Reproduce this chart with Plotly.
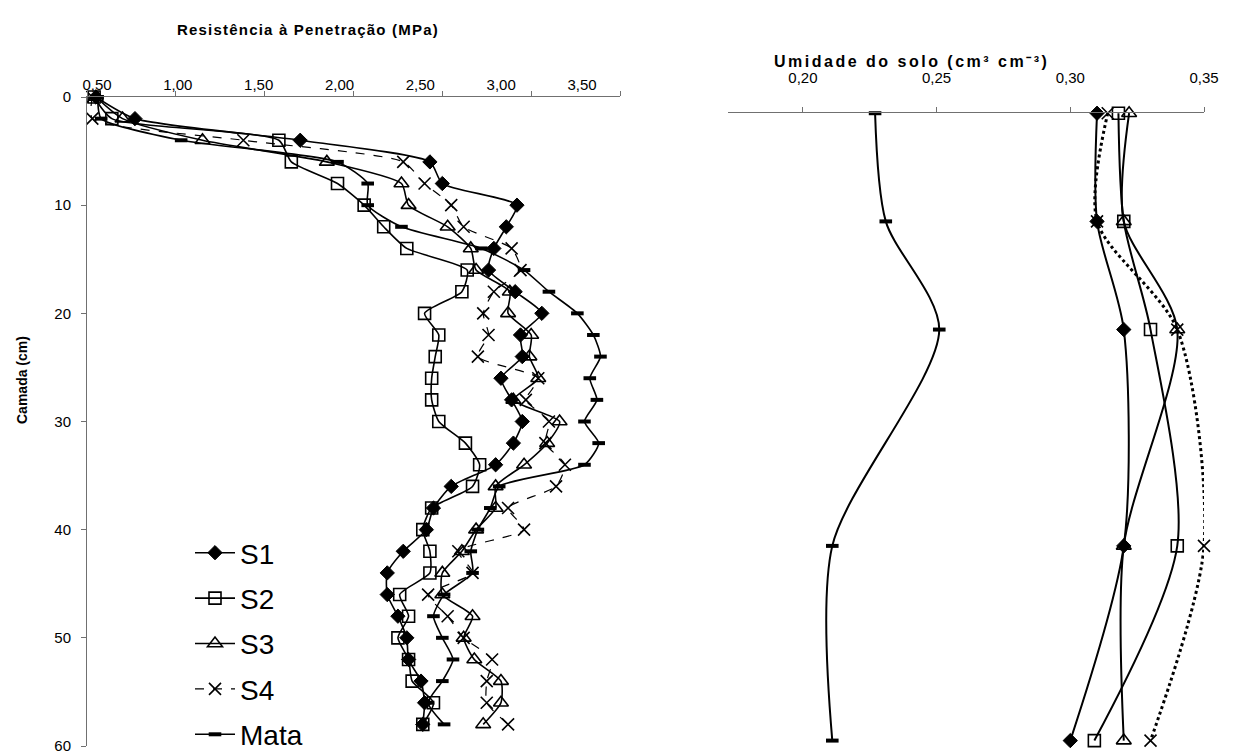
import plotly.graph_objects as go

W, H = 1239, 756
OFF = 8  # page body margin of the rendered html

# ---------------- Data: penetration resistance (MPa) by depth (cm) ----------------
depth = [0, 2, 4, 6, 8, 10, 12, 14, 16, 18, 20, 22, 24, 26, 28,
         30, 32, 34, 36, 38, 40, 42, 44, 46, 48, 50, 52, 54, 56, 58]

s1 = [0.55, 0.77, 1.70, 2.43, 2.50, 2.92, 2.86, 2.79, 2.76, 2.91, 3.06, 2.94, 2.95, 2.83, 2.89,
      2.95, 2.90, 2.80, 2.55, 2.45, 2.41, 2.28, 2.19, 2.19, 2.25, 2.30, 2.31, 2.38, 2.40, 2.39]
s2 = [0.54, 0.64, 1.58, 1.65, 1.91, 2.06, 2.17, 2.30, 2.64, 2.61, 2.40, 2.48, 2.46, 2.44, 2.44,
      2.48, 2.63, 2.71, 2.67, 2.44, 2.39, 2.43, 2.43, 2.26, 2.31, 2.25, 2.31, 2.33, 2.45, 2.39]
s3 = [0.55, 0.70, 1.15, 1.85, 2.27, 2.31, 2.53, 2.66, 2.69, 2.88, 2.87, 3.00, 2.99, 3.04, 2.90,
      3.16, 3.09, 2.96, 2.80, 2.80, 2.69, 2.61, 2.50, 2.50, 2.67, 2.62, 2.68, 2.83, 2.83, 2.73]
s4 = [0.53, 0.53, 1.38, 2.28, 2.40, 2.55, 2.62, 2.89, 2.94, 2.79, 2.73, 2.76, 2.70, 3.04, 2.97,
      3.10, 3.08, 3.19, 3.14, 2.87, 2.96, 2.59, 2.67, 2.42, 2.53, 2.62, 2.78, 2.75, 2.75, 2.87]
mata = [0.56, 0.58, 1.03, 1.91, 2.08, 2.08, 2.27, 2.72, 2.96, 3.10, 3.26, 3.35, 3.39, 3.33, 3.37,
        3.30, 3.38, 3.30, 2.82, 2.77, 2.70, 2.66, 2.67, 2.51, 2.45, 2.50, 2.56, 2.50, 2.42, 2.51]

# ---------------- Data: soil moisture (cm3 cm-3) by depth (cm) ----------------
depth_u = [1.5, 11.5, 21.5, 41.5, 59.5]
u_s1 = [0.310, 0.310, 0.320, 0.320, 0.300]
u_s2 = [0.318, 0.320, 0.330, 0.340, 0.309]
u_s3 = [0.322, 0.320, 0.340, 0.320, 0.320]
u_s4 = [0.314, 0.310, 0.340, 0.350, 0.330]
u_mata = [0.227, 0.231, 0.251, 0.211, 0.211]

x1_ticks = [0.5, 1.0, 1.5, 2.0, 2.5, 3.0, 3.5]
x1_text = ["0,50", "1,00", "1,50", "2,00", "2,50", "3,00", "3,50"]
y1_ticks = [0, 10, 20, 30, 40, 50, 60]
x2_ticks = [0.20, 0.25, 0.30, 0.35]
x2_text = ["0,20", "0,25", "0,30", "0,35"]

names = ["S1", "S2", "S3", "S4", "Mata"]

FONT = "Liberation Sans, Arial, sans-serif"
BLACK = "#000000"

styles = {
    "S1": dict(marker=dict(symbol="diamond", size=11, color=BLACK, line=dict(color=BLACK, width=1)),
               line=dict(color=BLACK, width=1.6, shape="spline", smoothing=0.6)),
    "S2": dict(marker=dict(symbol="square-open", size=12, color=BLACK, line=dict(color=BLACK, width=1.6)),
               line=dict(color=BLACK, width=1.6, shape="spline", smoothing=0.6)),
    "S3": dict(marker=dict(symbol="triangle-up-open", size=13, color=BLACK, line=dict(color=BLACK, width=1.6)),
               line=dict(color=BLACK, width=1.6, shape="spline", smoothing=0.6)),
    "S4": dict(marker=dict(symbol="x-thin-open", size=12, color=BLACK, line=dict(color=BLACK, width=1.6)),
               line=dict(color=BLACK, width=1.2, dash="dash", shape="spline", smoothing=0.6)),
    "Mata": dict(marker=dict(symbol="line-ew-open", size=9, color=BLACK, line=dict(color=BLACK, width=4)),
                 line=dict(color=BLACK, width=1.6, shape="spline", smoothing=0.6)),
}

fig = go.Figure()

left_series = [s1, s2, s3, s4, mata]
for nm, vals in zip(names, left_series):
    st = styles[nm]
    fig.add_trace(go.Scatter(
        x=vals, y=depth, mode="lines+markers", name=nm,
        legendgroup=nm, marker=st["marker"], line=st["line"],
        xaxis="x", yaxis="y", cliponaxis=False,
    ))

right_series = [u_s1, u_s2, u_s3, u_s4, u_mata]
for nm, vals in zip(names, right_series):
    st = styles[nm]
    ln = dict(st["line"])
    ln["width"] = 2
    ln["smoothing"] = 0.8
    if nm == "S4":
        ln["dash"] = "dot"
        ln["width"] = 3
    fig.add_trace(go.Scatter(
        x=vals, y=depth_u, mode="lines+markers", name=nm,
        legendgroup=nm, showlegend=False, marker=st["marker"], line=ln,
        xaxis="x2", yaxis="y2", cliponaxis=False,
    ))

# empty trace so that the label axis (as placed in the reference) is drawn
fig.add_trace(go.Scatter(x=[], y=[], xaxis="x3", yaxis="y", showlegend=False, hoverinfo="skip"))

def px_x(p):
    return (p - OFF) / W

def px_y(p):
    return 1 - (p - OFF) / H

axis_common = dict(showgrid=False, zeroline=False, showline=True, linecolor="#707070",
                   linewidth=1, ticks="outside", ticklen=5, tickcolor="#707070",
                   automargin=False,
                   tickfont=dict(family=FONT, size=15, color=BLACK))

fig.update_layout(
    width=W, height=H,
    margin=dict(l=0, r=0, t=0, b=0, autoexpand=False),
    paper_bgcolor="white", plot_bgcolor="white",
    font=dict(family=FONT, color=BLACK),
    xaxis=dict(domain=[px_x(87), px_x(620)], range=[0.5, 3.5], side="top", anchor="y",
               tickvals=x1_ticks, showticklabels=False, **axis_common),
    xaxis3=dict(domain=[px_x(87), px_x(620)], range=[0.438, 3.735], side="top", anchor="y",
                overlaying="x", showgrid=False, zeroline=False, showline=False,
                ticks="outside", ticklen=5, tickcolor="rgba(0,0,0,0)", automargin=False,
                tickvals=x1_ticks, ticktext=x1_text, ticklabelstandoff=-5,
                tickfont=dict(family=FONT, size=15, color=BLACK)),
    yaxis=dict(domain=[px_y(746), px_y(97)], range=[60, 0], anchor="x",
               tickvals=y1_ticks, ticktext=[str(v) for v in y1_ticks],
               ticklabelstandoff=7, **axis_common),
    xaxis2=dict(domain=[px_x(728), px_x(1204)], range=[0.172, 0.35], side="top",
                anchor="free", position=px_y(112),
                tickvals=x2_ticks, ticktext=x2_text, ticklabelstandoff=18, **axis_common),
    yaxis2=dict(domain=[px_y(746), px_y(97)], range=[60, 0], anchor="x2", visible=False,
                automargin=False),
    showlegend=True,
    legend=dict(x=px_x(190), y=px_y(528), xanchor="left", yanchor="top",
                font=dict(family=FONT, size=28, color=BLACK),
                bgcolor="rgba(0,0,0,0)", tracegroupgap=6, itemwidth=40),
    annotations=[
        dict(text="<span style='letter-spacing:1.2px'><b>Resistência à Penetração (MPa)</b></span>",
             x=px_x(308), y=px_y(30),
             xanchor="center", yanchor="middle",
             xref="paper", yref="paper", showarrow=False,
             font=dict(family=FONT, size=15, color=BLACK)),
        dict(text="<span style='letter-spacing:2.5px'><b>Umidade do solo (cm³ cm⁻³)</b></span>",
             x=px_x(912), y=px_y(62),
             xanchor="center", yanchor="middle",
             xref="paper", yref="paper", showarrow=False,
             font=dict(family=FONT, size=16, color=BLACK)),
        dict(text="<b>Camada (cm)</b>", x=px_x(22), y=px_y(380), textangle=-90,
             xanchor="center", yanchor="middle",
             xref="paper", yref="paper", showarrow=False,
             font=dict(family=FONT, size=14, color=BLACK)),
    ],
)

fig.write_html("out.html")
